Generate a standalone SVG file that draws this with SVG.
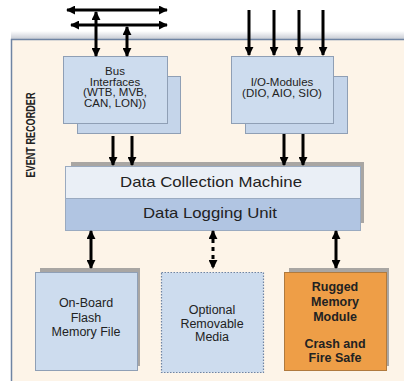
<svg xmlns="http://www.w3.org/2000/svg" width="404" height="381" viewBox="0 0 404 381">
<defs>
<marker id="ah" viewBox="0 0 10 10" refX="9" refY="5" markerWidth="3" markerHeight="3" orient="auto-start-reverse" markerUnits="strokeWidth">
<path d="M0,0 L10,5 L0,10 z" fill="#000"/>
</marker>
<linearGradient id="topsh" x1="0" y1="0" x2="0" y2="1">
<stop offset="0" stop-color="#ffffff"/>
<stop offset="1" stop-color="#c8ccd4"/>
</linearGradient>
</defs>
<style>
.t{font-family:"Liberation Sans",Arial,sans-serif;fill:#222;text-anchor:middle}
.s{font-size:11.5px}
.m{font-size:12.5px}
.bd{font-weight:bold}
.b{font-size:15px}
.box{fill:#cddcee;stroke:#8f9fb5;stroke-width:1}
.back{fill:#c5d5ea;stroke:#8f9fb5;stroke-width:1}
.sh{fill:#8c8c8c;opacity:0.75}
.c{stroke:#000;stroke-width:3;fill:none}
</style>
<rect x="0" y="0" width="404" height="381" fill="#ffffff"/>
<rect x="11" y="31" width="393" height="8" fill="url(#topsh)"/>
<g id="container">
<rect x="11.5" y="39.5" width="395" height="345" fill="#fdf4e8" stroke="#6f84a3" stroke-width="1.5"/>
<text class="t bd" font-size="12" textLength="85" lengthAdjust="spacingAndGlyphs" transform="translate(35,135) rotate(-90)">EVENT RECORDER</text>
</g>
<g id="bus-interfaces">
<rect class="back" x="77.5" y="76.5" width="103" height="57"/>
<rect class="box" x="63.5" y="56.5" width="104" height="67"/>
<text class="t s" x="115" y="75">Bus</text>
<text class="t s" x="115" y="85.5">Interfaces</text>
<text class="t s" x="115" y="96">(WTB, MVB,</text>
<text class="t s" x="115" y="106.5">CAN, LON))</text>
</g>
<g id="io-modules">
<rect class="back" x="245.5" y="76.5" width="102" height="57"/>
<rect class="box" x="231.5" y="56.5" width="102" height="67"/>
<text class="t s" x="282" y="86">I/O-Modules</text>
<text class="t s" x="282" y="96.5">(DIO, AIO, SIO)</text>
</g>
<g id="data-collection">
<rect class="sh" x="71" y="162" width="293" height="61"/>
<rect x="65.5" y="166.5" width="295" height="32" fill="#eaeff6" stroke="#9aaac0" stroke-width="1"/>
<rect x="65.5" y="198.5" width="295" height="32" fill="#b1c5e2" stroke="#9aaac0" stroke-width="1"/>
<text class="t b" x="211" y="187" textLength="182" lengthAdjust="spacingAndGlyphs">Data Collection Machine</text>
<text class="t b" x="210" y="218" textLength="134" lengthAdjust="spacingAndGlyphs">Data Logging Unit</text>
</g>
<g id="flash">
<rect class="sh" x="40" y="268" width="100" height="98"/>
<rect class="box" x="35.5" y="272.5" width="102" height="98"/>
<text class="t m" x="86" y="307">On-Board</text>
<text class="t m" x="86" y="322">Flash</text>
<text class="t m" x="86" y="336">Memory File</text>
</g>
<g id="removable">
<rect x="161.5" y="272.5" width="102" height="100" fill="#cddcee" stroke="#6f84a3" stroke-width="1.2" stroke-dasharray="1.5,1.5"/>
<text class="t m" x="212" y="314">Optional</text>
<text class="t m" x="212" y="327.5">Removable</text>
<text class="t m" x="212" y="341">Media</text>
</g>
<g id="rugged">
<rect class="sh" x="289" y="268" width="100" height="98"/>
<rect x="284.5" y="272.5" width="102" height="98" fill="#ee9e47" stroke="#b07a3e" stroke-width="1"/>
<text class="t m bd" x="335" y="291">Rugged</text>
<text class="t m bd" x="335" y="306">Memory</text>
<text class="t m bd" x="335" y="321">Module</text>
<text class="t m bd" x="335" y="348">Crash and</text>
<text class="t m bd" x="335" y="362">Fire Safe</text>
</g>
<g id="connectors">
<line class="c" x1="67" y1="10" x2="167" y2="10" marker-start="url(#ah)" marker-end="url(#ah)"/>
<line class="c" x1="71" y1="25" x2="167" y2="25" marker-start="url(#ah)" marker-end="url(#ah)"/>
<line class="c" x1="96" y1="12" x2="96" y2="56" marker-start="url(#ah)" marker-end="url(#ah)"/>
<line class="c" x1="127" y1="27" x2="127" y2="56" marker-start="url(#ah)" marker-end="url(#ah)"/>
<line class="c" x1="249" y1="10" x2="249" y2="55" marker-end="url(#ah)"/>
<line class="c" x1="274" y1="10" x2="274" y2="55" marker-end="url(#ah)"/>
<line class="c" x1="299" y1="10" x2="299" y2="55" marker-end="url(#ah)"/>
<line class="c" x1="323" y1="10" x2="323" y2="55" marker-end="url(#ah)"/>
<line class="c" x1="113" y1="136" x2="113" y2="165" marker-end="url(#ah)"/>
<line class="c" x1="132" y1="136" x2="132" y2="165" marker-end="url(#ah)"/>
<line class="c" x1="284" y1="134" x2="284" y2="165" marker-end="url(#ah)"/>
<line class="c" x1="303" y1="134" x2="303" y2="165" marker-end="url(#ah)"/>
<line class="c" x1="91" y1="231" x2="91" y2="268" marker-start="url(#ah)" marker-end="url(#ah)"/>
<line class="c" x1="213" y1="231" x2="213" y2="268" stroke-dasharray="4,4" marker-start="url(#ah)" marker-end="url(#ah)"/>
<line class="c" x1="336" y1="231" x2="336" y2="268" marker-start="url(#ah)" marker-end="url(#ah)"/>
</g>
</svg>
